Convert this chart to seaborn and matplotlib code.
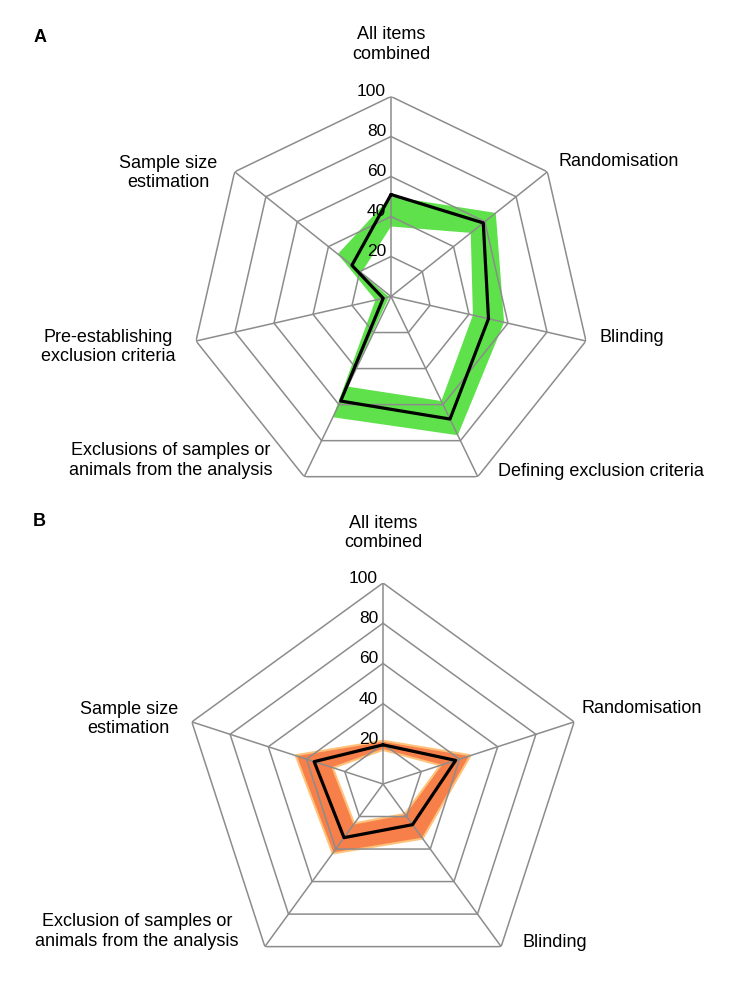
import numpy as np
import matplotlib.pyplot as plt
import seaborn as sns

# STYLE
sns.set_style("white")
plt.rcParams['font.family'] = ['Liberation Sans', 'DejaVu Sans']
plt.rcParams['text.color'] = 'black'

# DATA - panel A (7 items)
items_a = ["All items\ncombined", "Randomisation", "Blinding",
           "Defining exclusion criteria",
           "Exclusions of samples or\nanimals from the analysis",
           "Pre-establishing\nexclusion criteria", "Sample size\nestimation"]
mean_a = [51, 59, 50, 68, 58, 4, 25]
low_a = [35, 51, 42, 58, 50, 1, 19]
high_a = [50, 67, 58, 77, 67, 8, 34]

# DATA - panel B (5 items)
items_b = ["All items\ncombined", "Randomisation", "Blinding",
           "Exclusion of samples or\nanimals from the analysis",
           "Sample size\nestimation"]
mean_b = [19.5, 38, 25, 33, 36]
low_b = [17.5, 31, 19, 25, 27]
high_b = [21, 45, 33, 42, 45]

ring_ticks = [20, 40, 60, 80, 100]

GRID = "#8c8c8c"


def closed(vals):
    vals = list(vals)
    return np.array(vals + vals[:1], dtype=float)


def radar(ax, items, mean, low, high, band, halo, label_offsets):
    n = len(items)
    theta = np.linspace(0, 2 * np.pi, n, endpoint=False)
    th = closed(theta)
    th[-1] = 2 * np.pi

    ax.set_theta_offset(np.pi / 2)
    ax.set_theta_direction(-1)
    ax.grid(False)
    ax.spines['polar'].set_visible(False)
    ax.set_facecolor('none')

    # band (ring between low and high polygons)
    if halo:
        ax.plot(th, closed(high), color=halo, lw=3, zorder=1)
        ax.plot(th, closed(low), color=halo, lw=3, zorder=1)
    ax.fill(np.r_[th, th[::-1]], np.r_[closed(high), closed(low)[::-1]],
            color=band, lw=0, zorder=1)

    # polygon grid
    for r in ring_ticks:
        ax.plot(th, [r] * (n + 1), color=GRID, lw=1.1, zorder=2)
    for t in theta:
        ax.plot([t, t], [0, ring_ticks[-1]], color=GRID, lw=1.1, zorder=2)

    # mean line
    sns.lineplot(x=th, y=closed(mean), sort=False, estimator=None,
                 color="black", lw=2.3, ax=ax, zorder=3)

    ax.set_ylim(0, 100)
    ax.set_xticks([])
    ax.set_yticks([])
    ax.set_xlabel("")
    ax.set_ylabel("")

    # ring values
    for r in ring_ticks:
        ax.annotate(str(r), xy=(0, r), xytext=(-5, -2),
                    textcoords='offset pixels', ha='right', va='bottom',
                    fontsize=12.5, zorder=4)

    # item labels
    for t, lab, (dx, dy, ha) in zip(theta, items, label_offsets):
        ax.annotate(lab, xy=(t, 100), xytext=(dx, dy),
                    textcoords='offset pixels', ha=ha, va='center',
                    multialignment='center', fontsize=13,
                    annotation_clip=False)


fig = plt.figure(figsize=(7.4, 9.95), dpi=100)

ax_a = fig.add_axes([191 / 740, (995 - 297.5 - 200) / 995, 400 / 740, 400 / 995],
                    projection='polar')
radar(ax_a, items_a, mean_a, low_a, high_a, "#5fe14b", None,
      [(0, 53, 'center'), (11, 11, 'left'), (14, 5, 'left'), (20, 6, 'left'),
       (-32, 17, 'right'), (-21, -5, 'right'), (-17, 0, 'right')])

ax_b = fig.add_axes([182 / 740, (995 - 785 - 201) / 995, 402 / 740, 402 / 995],
                    projection='polar')
radar(ax_b, items_b, mean_b, low_b, high_b, "#f77f4a", "#ffc27a",
      [(0, 51, 'center'), (7, 14, 'left'), (21, 5, 'left'),
       (-26, 16, 'right'), (-14, 4, 'right')])

fig.text(40 / 740, 1 - 37 / 995, "A", fontsize=13, fontweight='bold',
         ha='center', va='center')
fig.text(39 / 740, 1 - 522 / 995, "B", fontsize=13, fontweight='bold',
         ha='center', va='center')

fig.savefig("out.png", dpi=100)
